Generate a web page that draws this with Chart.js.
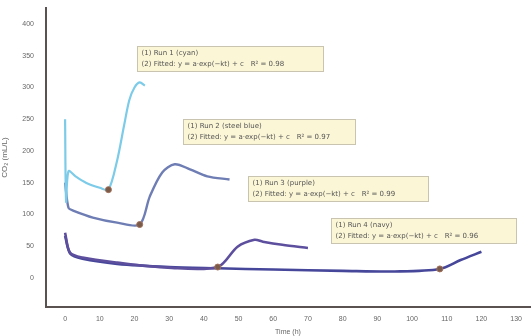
<!DOCTYPE html>
<html lang="en">
<head>
<meta charset="UTF-8">
<title>Cumulative curves</title>
<script src="https://cdn.jsdelivr.net/npm/chart.js@4.4.1/dist/chart.umd.min.js"></script>
<style>
  html, body { margin: 0; padding: 0; background: #fff; }
  #wrap { width: 532px; height: 336px; }
</style>
</head>
<body>
<div id="wrap"><canvas id="c" width="532" height="336"></canvas></div>
<script>
// data (x = time, y = value)
const run1X = [0, 0.3, 1, 3, 6, 10, 12.5, 15, 17, 18.5, 20, 21.5, 23];
const run1Y = [250, 120, 168, 160, 150, 142, 139, 185, 240, 280, 300, 308, 303];

const run2X = [0, 1, 2.3, 8, 15, 21.5, 24.4, 28, 31.6, 36, 41, 47.4];
const run2Y = [150, 110, 106, 95, 87, 84, 128, 166, 179, 171, 160, 155];

const run3X = [0, 1.4, 5, 15, 29.6, 44, 49.7, 54.6, 57, 62.6, 70];
const run3Y = [71, 40, 32, 24, 16, 17, 49, 60, 57, 52, 47];

const run4X = [0, 1.5, 5, 15, 30, 44, 60, 80, 95, 108, 114, 120];
const run4Y = [66, 38, 30, 22, 17, 15, 13, 11, 10, 14, 28, 41];

// index of the switching point on each curve
const markIdx = [6, 5, 5, 9];

const xTicks = [0, 10, 20, 30, 40, 50, 60, 70, 80, 90, 100, 110, 120, 130];
const yTicks = [0, 50, 100, 150, 200, 250, 300, 350, 400];

// annotation boxes: anchor in data units + two lines of text
const noteX = [20.7, 34, 52.6, 76.5];
const noteY = [365, 250, 161, 95];
const noteW = [186, 172, 180, 185];
const noteL1 = ['(1) Run 1 (cyan)', '(1) Run 2 (steel blue)', '(1) Run 3 (purple)', '(1) Run 4 (navy)'];
const noteL2 = [
  '(2) Fitted: y = a\u00b7exp(\u2212kt) + c   R\u00b2 = 0.98',
  '(2) Fitted: y = a\u00b7exp(\u2212kt) + c   R\u00b2 = 0.97',
  '(2) Fitted: y = a\u00b7exp(\u2212kt) + c   R\u00b2 = 0.99',
  '(2) Fitted: y = a\u00b7exp(\u2212kt) + c   R\u00b2 = 0.96'
];

function pts(xs, ys) { return xs.map((x, i) => ({ x: x, y: ys[i] })); }

function makeSet(label, xs, ys, color, mark, width) {
  return {
    label: label,
    data: pts(xs, ys),
    borderColor: color,
    borderWidth: width,
    fill: false,
    tension: 0.3,
    pointRadius: xs.map((_, i) => i === mark ? 3 : 0),
    pointBackgroundColor: '#7a5a48',
    pointBorderColor: '#a0705a',
    pointBorderWidth: 1
  };
}

// draws the yellow note boxes
const notes = {
  id: 'notes',
  afterDatasetsDraw(chart) {
    const ctx = chart.ctx;
    const xs = chart.scales.x, ys = chart.scales.y;
    ctx.save();
    ctx.font = '7px "DejaVu Sans", sans-serif';
    ctx.textBaseline = 'middle';
    for (let i = 0; i < noteX.length; i++) {
      const left = Math.round(xs.getPixelForValue(noteX[i])) + 0.5;
      const top = Math.round(ys.getPixelForValue(noteY[i])) + 0.5;
      const w = noteW[i], h = 25;
      ctx.fillStyle = '#fbf6d6';
      ctx.fillRect(left, top, w, h);
      ctx.strokeStyle = '#c8c4b0';
      ctx.lineWidth = 1;
      ctx.strokeRect(left, top, w, h);
      ctx.fillStyle = '#555';
      ctx.fillText(noteL1[i], left + 4, top + 7);
      ctx.fillText(noteL2[i], left + 4, top + 18);
    }
    ctx.restore();
  }
};

new Chart(document.getElementById('c'), {
  type: 'line',
  data: {
    datasets: [
      makeSet('Run 1', run1X, run1Y, '#7ccbe8', markIdx[0], 2.2),
      makeSet('Run 2', run2X, run2Y, '#6e7db4', markIdx[1], 2.4),
      makeSet('Run 3', run3X, run3Y, '#5d4f9e', markIdx[2], 2.6),
      makeSet('Run 4', run4X, run4Y, '#46469a', markIdx[3], 2.6)
    ]
  },
  options: {
    responsive: false,
    animation: false,
    layout: { padding: { left: 0, right: 2, top: 8, bottom: 0 } },
    plugins: { legend: { display: false }, tooltip: { enabled: false } },
    scales: {
      x: {
        type: 'linear',
        min: -5.5,
        max: 134,
        grid: { display: false },
        border: { display: true, color: '#5a5250', width: 2 },
        afterBuildTicks: s => { s.ticks = xTicks.map(v => ({ value: v })); },
        afterFit: s => { s.height = 29; },
        ticks: { color: '#666', font: { size: 7 }, padding: 0, maxRotation: 0, autoSkip: false },
        title: { display: true, text: 'Time (h)', color: '#666', font: { size: 7 }, padding: { top: 4, bottom: 0 } }
      },
      y: {
        min: -46,
        max: 425,
        grid: { display: false },
        border: { display: true, color: '#5a5250', width: 2 },
        afterBuildTicks: s => { s.ticks = yTicks.map(v => ({ value: v })); },
        afterFit: s => { s.width = 46; },
        ticks: { color: '#666', font: { size: 7 }, padding: 4 },
        title: { display: true, text: 'CO\u2082 (mL/L)', color: '#666', font: { size: 8 }, padding: 0 }
      }
    }
  },
  plugins: [notes]
});
</script>
</body>
</html>
